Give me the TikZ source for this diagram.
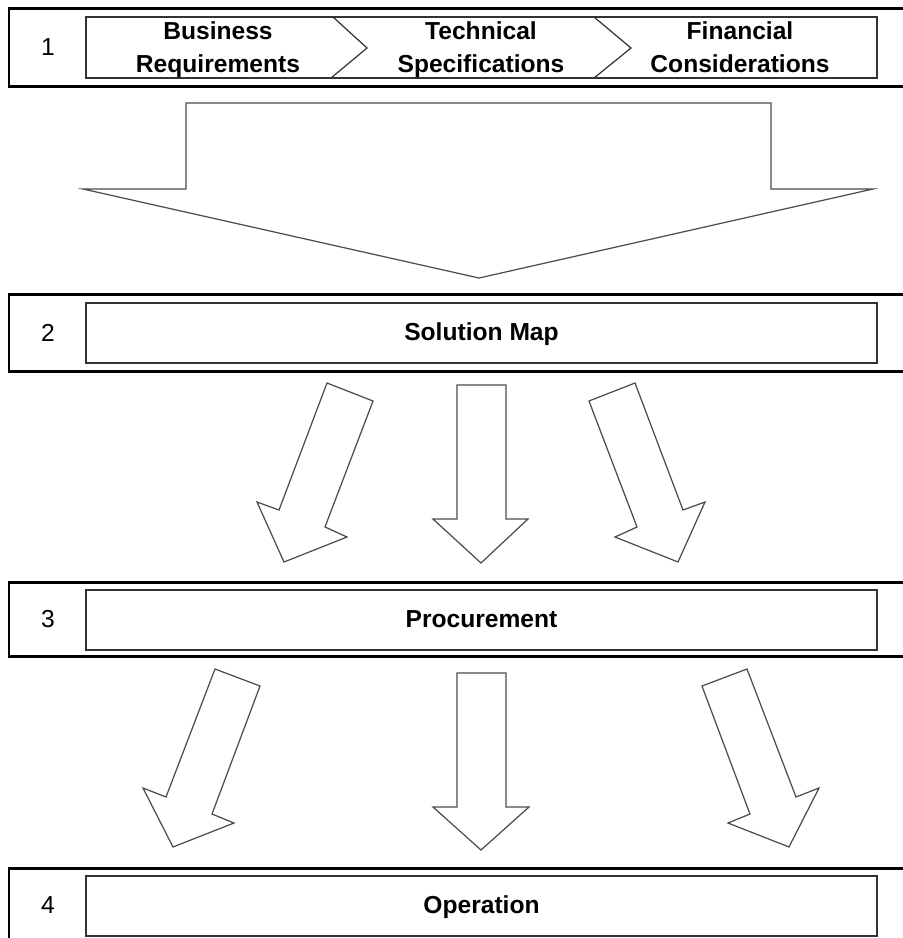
\documentclass[tikz,border=0pt]{standalone}
\usepackage{fontspec}
\setmainfont{Liberation Sans}
\usepackage{tikz}
\usetikzlibrary{positioning}

\tikzset{
    riga/.style={draw=black, line width=1.7pt},
    casella/.style={draw=black!80, line width=0.9pt, minimum width=15.82cm, minimum height=1.2cm, inner sep=0pt, text height=11pt},
    freccia/.style={draw=black!70, line width=0.7pt, fill=white, line join=miter},
    etichetta/.style={font=\fontsize{14}{18.5}\selectfont\bfseries, align=center, text depth=0.21em},
    numero/.style={font=\fontsize{14}{17}\selectfont}
}

\begin{document}
\begin{tikzpicture}[x=0.02cm, y=-0.02cm]
    \useasboundingbox (0,0) rectangle (903,938);

    % Fasi
    \draw[riga] (9,8) rectangle (915,86);
    \draw[riga] (9,294) rectangle (915,371);
    \draw[riga] (9,582) rectangle (915,656);
    \draw[riga] (9,868) rectangle (915,944);

    % Numeri
    \node[numero] (num1) at (48,47) {1};
    \node[numero] (num2) at (48,333) {2};
    \node[numero] (num3) at (48,619) {3};
    \node[numero] (num4) at (48,905) {4};

    % Fase 1: requisiti
    \node[casella, minimum height=1.22cm] (requisiti) at (481.5,47.5) {};
    \draw[black!80, line width=0.7pt] (333,17) -- (367,48) -- (331,78);
    \draw[black!80, line width=0.7pt] (594,17) -- (631,48) -- (594,78);
    \node[etichetta] (business) at (218,49) {Business\\Requirements};
    \node[etichetta] (tecnica) at (481,49) {Technical\\Specifications};
    \node[etichetta] (finanza) at (740,49) {Financial\\Considerations};

    % Fasi 2-4
    \node[casella, etichetta] (mappa) at (481.5,333) {Solution Map};
    \node[casella, etichetta] (acquisti) at (481.5,620) {Procurement};
    \node[casella, etichetta] (esercizio) at (481.5,906) {Operation};

    % Freccia grande
    \draw[freccia] (186,103) -- (771,103) -- (771,189) -- (873,189) -- (479,278) -- (83,189) -- (186,189) -- cycle;

    % Frecce 2 -> 3
    \draw[freccia] (327,383) -- (373,401) -- (325,527) -- (347,537) -- (284,562) -- (257,502) -- (279,510) -- cycle;
    \draw[freccia] (457,385) -- (506,385) -- (506,519) -- (528,519) -- (481,563) -- (433,519) -- (457,519) -- cycle;
    \draw[freccia] (635,383) -- (589,401) -- (637,527) -- (615,537) -- (678,562) -- (705,502) -- (683,510) -- cycle;

    % Frecce 3 -> 4
    \draw[freccia] (215,669) -- (260,686) -- (212,814) -- (234,823) -- (173,847) -- (143,788) -- (166,797) -- cycle;
    \draw[freccia] (457,673) -- (506,673) -- (506,807) -- (529,807) -- (481,850) -- (433,807) -- (457,807) -- cycle;
    \draw[freccia] (747,669) -- (702,686) -- (750,814) -- (728,823) -- (789,847) -- (819,788) -- (796,797) -- cycle;
\end{tikzpicture}
\end{document}
